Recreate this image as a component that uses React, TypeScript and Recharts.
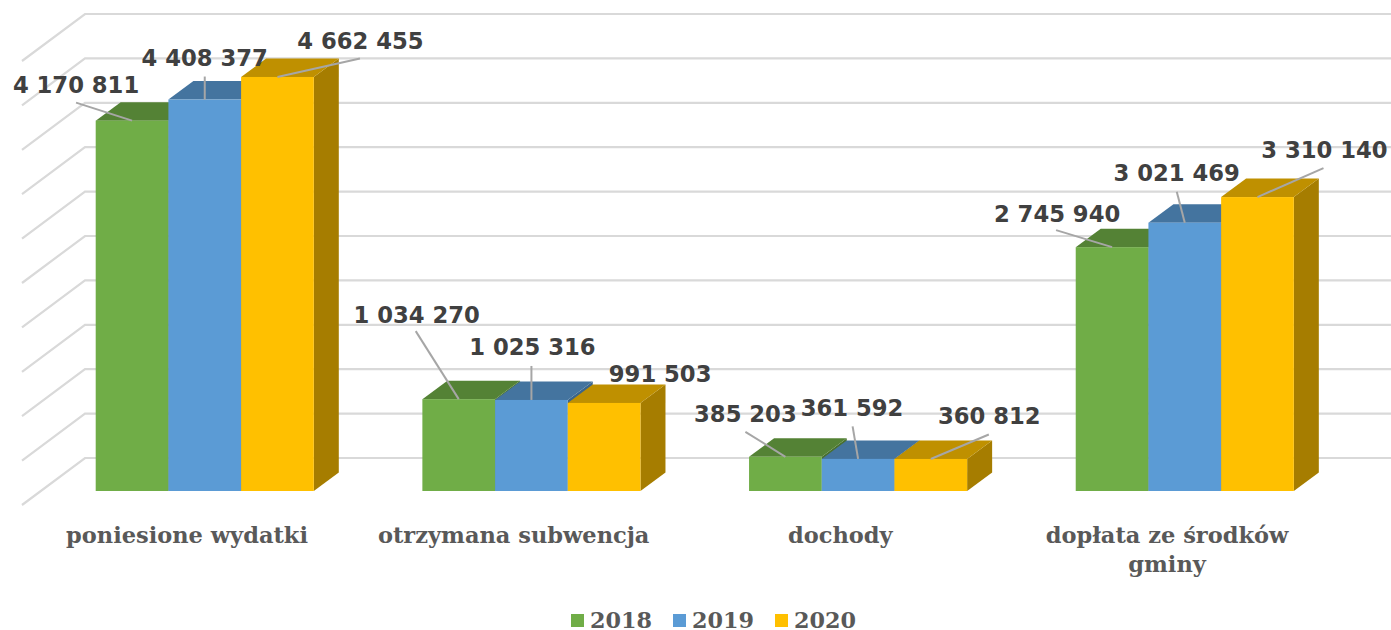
import React from "react";
import { BarChart, Bar, XAxis, YAxis, CartesianGrid, Legend, LabelList } from "recharts";

const categories = ["poniesione wydatki", "otrzymana subwencja", "dochody", "dopłata ze środków gminy"];
const values2018 = [4170811, 1034270, 385203, 2745940];
const values2019 = [4408377, 1025316, 361592, 3021469];
const values2020 = [4662455, 991503, 360812, 3310140];
const seriesNames = ["2018", "2019", "2020"];
const yTicks = [0, 500000, 1000000, 1500000, 2000000, 2500000, 3000000, 3500000, 4000000, 4500000, 5000000];

const chartData = categories.map((name, i) => ({
  name,
  v2018: values2018[i],
  v2019: values2019[i],
  v2020: values2020[i],
}));

const W = 1391;
const H = 630;
const DEPTH_X = 25;
const DEPTH_Y = 18.5;
const MAX_LINE_CHARS = 20;
const SERIF = "'DejaVu Serif', serif";
const SANS = "'DejaVu Sans', sans-serif";

const FRONT = ["#70AD47", "#5B9BD5", "#FFC000"];
const TOP = ["#548235", "#44749F", "#BF9000"];
const SIDE = ["#49702E", "#3B658A", "#A67D00"];

// label placement relative to the top-centre of the bar: [text dx, baseline dy, leader dx, leader dy]
const placement: Record<string, (number | null)[][]> = {
  v2018: [
    [-56, -27.5, -56, -18],
    [-42, -76.5, -43, -68],
    [-40, -34.5, -40, -25],
    [-55, -25.5, -56, -17],
  ],
  v2019: [
    [0, -33.5, 0, -23],
    [1, -44.5, 0, -34],
    [-6, -43, -5.5, -32.5],
    [-8, -41.5, -8, -31],
  ],
  v2020: [
    [83, -27.5, 82.5, -18.5],
    [56, -20.5, null, 0],
    [58.5, -34.5, 58, -24.5],
    [67, -39.5, 66, -29],
  ],
};

const Bar3D = (idx: number) => (props: any) => {
  const { x, y, width, height } = props;
  const b = y + height;
  return (
    <g>
      <polygon
        points={`${x + width},${y} ${x + width + DEPTH_X},${y - DEPTH_Y} ${x + width + DEPTH_X},${b - DEPTH_Y} ${x + width},${b}`}
        fill={SIDE[idx]}
      />
      <polygon
        points={`${x},${y} ${x + DEPTH_X},${y - DEPTH_Y} ${x + width + DEPTH_X},${y - DEPTH_Y} ${x + width},${y}`}
        fill={TOP[idx]}
      />
      <rect x={x} y={y} width={width} height={height} fill={FRONT[idx]} />
    </g>
  );
};

const gridLine = (props: any) => {
  const { x1, x2, y1, index } = props;
  const backY = y1 - 33;
  const frontY = backY + 47;
  const backX = x1 + 43.3;
  return (
    <polyline
      key={`grid-${index}`}
      points={`${x1 - 19.7},${frontY} ${backX},${backY} ${x2 + 43},${backY}`}
      fill="none"
      stroke="#D9D9D9"
      strokeWidth={2.2}
    />
  );
};

const wrapWords = (s: string) => {
  const lines: string[] = [];
  s.split(" ").forEach((w) => {
    const last = lines[lines.length - 1];
    if (last !== undefined && (last + " " + w).length <= MAX_LINE_CHARS) lines[lines.length - 1] = last + " " + w;
    else lines.push(w);
  });
  return lines;
};

const CategoryTick = (props: any) => {
  const { x, y, payload } = props;
  return (
    <text
      x={x - 18}
      y={y + 16}
      textAnchor="middle"
      fontFamily={SERIF}
      fontWeight={700}
      fontSize={22.5}
      fill="#595959"
    >
      {wrapWords(payload.value).map((line, i) => (
        <tspan key={line} x={x - 18} dy={i === 0 ? 0 : 28.5}>
          {line}
        </tspan>
      ))}
    </text>
  );
};

const fmt = (v: number) => String(v).replace(/\B(?=(\d{3})+$)/g, " ");

const ValueLabel = (key: string) => (props: any) => {
  const { x, y, width, value, index } = props;
  const p = placement[key][index] as number[];
  const cx = x + width / 2;
  return (
    <g>
      {p[2] !== null && (
        <line x1={cx + p[2]} y1={y + p[3]} x2={cx} y2={y} stroke="#A6A6A6" strokeWidth={2} />
      )}
      <text x={cx + p[0]} y={y + p[1]} textAnchor="middle" fontFamily={SANS} fontWeight={700} fontSize={22.7} fill="#404040">
        {fmt(value)}
      </text>
    </g>
  );
};

const LegendBox = (props: any) => {
  const items = (props.payload || []).filter((e: any) => seriesNames.includes(String(e.value)));
  return (
    <div style={{ display: "flex", alignItems: "center" }}>
      {items.map((e: any, i: number) => (
        <div key={e.value} style={{ display: "flex", alignItems: "center", width: 102 }}>
          <span style={{ width: 13, height: 13, background: FRONT[i], marginRight: 6, display: "inline-block" }} />
          <span style={{ fontFamily: SERIF, fontWeight: 700, fontSize: 22.3, color: "#595959", lineHeight: "18px", position: "relative", top: -1 }}>
            {e.value}
          </span>
        </div>
      ))}
    </div>
  );
};

export default function App() {
  return (
    <div style={{ position: "absolute", left: 0, top: 0, width: W, height: H }}>
      <BarChart
        width={W}
        height={H}
        data={chartData}
        margin={{ top: 47, right: 42.6, bottom: 0, left: 41.7 }}
        barSize={72.7}
        barGap={0}
      >
        <CartesianGrid vertical={false} horizontal={gridLine as any} />
        <XAxis
          dataKey="name"
          height={139}
          axisLine={false}
          tickLine={false}
          tick={CategoryTick as any}
          tickMargin={30}
          interval={0}
        />
        <YAxis hide domain={[0, 5000000]} ticks={yTicks} width={0} />
        <Bar dataKey="v2018" name="2018" fill={FRONT[0]} shape={Bar3D(0) as any} isAnimationActive={false}>
          <LabelList dataKey="v2018" content={ValueLabel("v2018") as any} />
        </Bar>
        <Bar dataKey="v2019" name="2019" fill={FRONT[1]} shape={Bar3D(1) as any} isAnimationActive={false}>
          <LabelList dataKey="v2019" content={ValueLabel("v2019") as any} />
        </Bar>
        <Bar dataKey="v2020" name="2020" fill={FRONT[2]} shape={Bar3D(2) as any} isAnimationActive={false}>
          <LabelList dataKey="v2020" content={ValueLabel("v2020") as any} />
        </Bar>
        <Legend
          verticalAlign="middle"
          content={LegendBox as any}
          wrapperStyle={{ left: 571, top: 611.5, width: 320, bottom: "auto" }}
        />
      </BarChart>
    </div>
  );
}
